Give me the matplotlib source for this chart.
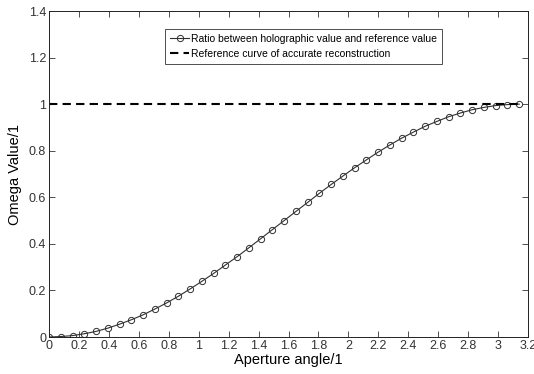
import matplotlib
matplotlib.use("Agg")
import matplotlib.pyplot as plt

plt.rcParams['font.family'] = ['Liberation Sans', 'DejaVu Sans']

angle = [0.000, 0.079, 0.157, 0.236, 0.314, 0.393, 0.471, 0.550, 0.628, 0.707,
         0.785, 0.864, 0.942, 1.021, 1.100, 1.178, 1.257, 1.335, 1.414, 1.492,
         1.571, 1.649, 1.728, 1.806, 1.885, 1.963, 2.042, 2.121, 2.199, 2.278,
         2.356, 2.435, 2.513, 2.592, 2.670, 2.749, 2.827, 2.906, 2.985, 3.063,
         3.142]
ratio = [0.000, 0.002, 0.006, 0.014, 0.024, 0.038, 0.055, 0.074, 0.095, 0.120,
         0.146, 0.175, 0.206, 0.239, 0.273, 0.309, 0.345, 0.383, 0.422, 0.461,
         0.500, 0.539, 0.578, 0.617, 0.655, 0.691, 0.727, 0.761, 0.794, 0.825,
         0.854, 0.880, 0.905, 0.926, 0.946, 0.962, 0.976, 0.986, 0.994, 0.998,
         1.000]
ref_x = [0.0, 3.142]
ref_y = [1.0, 1.0]
xticks = [0, 0.2, 0.4, 0.6, 0.8, 1, 1.2, 1.4, 1.6, 1.8, 2, 2.2, 2.4, 2.6, 2.8, 3, 3.2]
xticklabels = ['0', '0.2', '0.4', '0.6', '0.8', '1', '1.2', '1.4', '1.6', '1.8',
               '2', '2.2', '2.4', '2.6', '2.8', '3', '3.2']
yticks = [0, 0.2, 0.4, 0.6, 0.8, 1, 1.2, 1.4]
yticklabels = ['0', '0.2', '0.4', '0.6', '0.8', '1', '1.2', '1.4']

fig = plt.figure(figsize=(5.34, 3.74), dpi=100)
ax = fig.add_axes([49/534, 1-337/374, (528-49)/534, (337-11)/374])

ax.plot(angle, ratio, color='#303030', lw=0.8, marker='o', markersize=4.5,
        markerfacecolor='none', markeredgecolor='#303030', markeredgewidth=0.7,
        label='Ratio between holographic value and reference value')
ax.plot(ref_x, ref_y, color='black', lw=1.5, linestyle=(0, (4, 2.5)),
        label='Reference curve of accurate reconstruction')

ax.set_xlim(0, 3.2)
ax.set_ylim(0, 1.4)
ax.set_xticks(xticks)
ax.set_xticklabels(xticklabels)
ax.set_yticks(yticks)
ax.set_yticklabels(yticklabels)
ax.tick_params(direction='in', length=4, width=0.6, top=True, right=True,
               labelsize=9, colors='#333333', pad=2)
for s in ax.spines.values():
    s.set_linewidth(0.7)
    s.set_color('#222222')

ax.set_xlabel('Aperture angle/1', fontsize=10.5, labelpad=1)
ax.set_ylabel('Omega Value/1', fontsize=10.5, labelpad=5)

leg = ax.legend(loc='upper left', bbox_to_anchor=(0.242, 0.945), fontsize=7.5,
                frameon=True, fancybox=False, handlelength=1.8, handletextpad=0.2,
                borderpad=0.5, labelspacing=0.45, borderaxespad=0)
leg.get_frame().set_edgecolor('#222222')
leg.get_frame().set_linewidth(0.7)

fig.savefig('out.png', dpi=100)
